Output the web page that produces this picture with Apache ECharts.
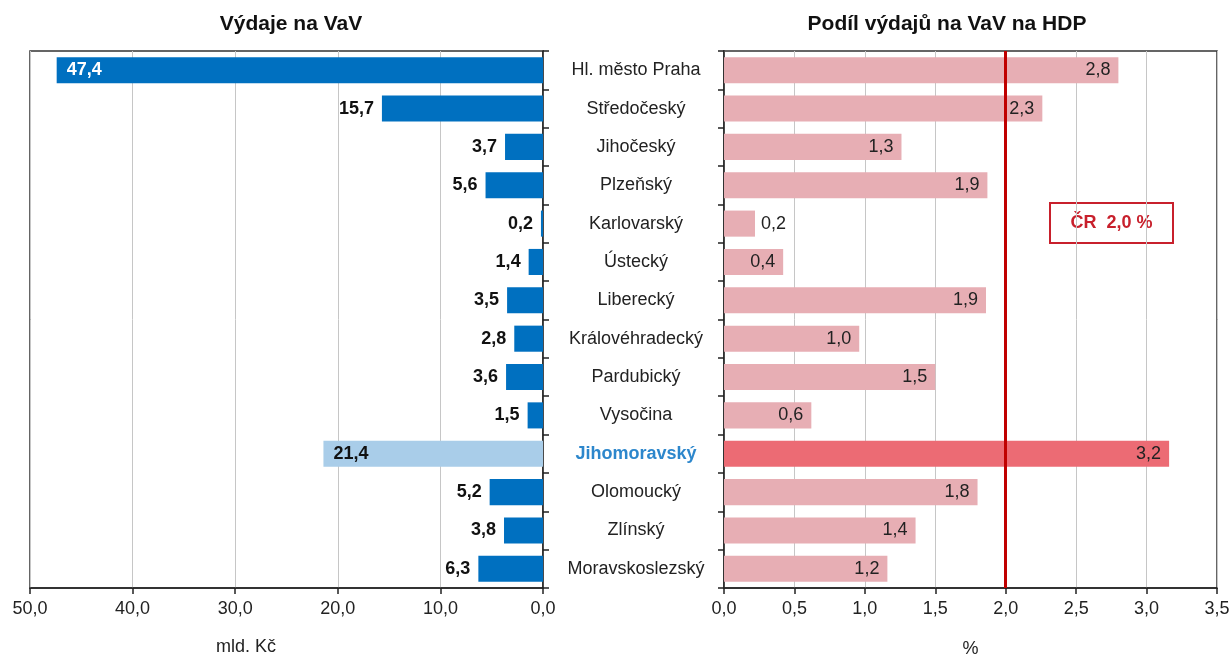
<!DOCTYPE html>
<html>
<head>
<meta charset="utf-8">
<script src="https://cdn.jsdelivr.net/npm/echarts@6/dist/echarts.min.js"></script>
<style>
html,body{margin:0;padding:0;background:#fff;}
#chart{width:1232px;height:658px;}
</style>
</head>
<body>
<div id="chart"></div>
<script>
// ---- data ----
const regions = ["Hl. město Praha","Středočeský","Jihočeský","Plzeňský","Karlovarský","Ústecký","Liberecký","Královéhradecký","Pardubický","Vysočina","Jihomoravský","Olomoucký","Zlínský","Moravskoslezský"];
const spending = [47.4, 15.7, 3.7, 5.6, 0.2, 1.4, 3.5, 2.8, 3.6, 1.5, 21.4, 5.2, 3.8, 6.3];
const gdpShare = [2.80, 2.26, 1.26, 1.87, 0.22, 0.42, 1.86, 0.96, 1.50, 0.62, 3.16, 1.80, 1.36, 1.16];
const czAverage = 2.0;
const leftTicks = [0, 10, 20, 30, 40, 50];
const rightTicks = [0, 0.5, 1, 1.5, 2, 2.5, 3, 3.5];
const highlight = "Jihomoravský";

const fmt = v => v.toFixed(1).replace('.', ',');
const FONT = 'Liberation Sans, Arial, sans-serif';
const FS = 18;

const chart = echarts.init(document.getElementById('chart'), null, {renderer: 'canvas'});

const leftData = spending.map((v, i) => {
  const item = {value: v};
  if (regions[i] === highlight) {
    item.itemStyle = {color: '#A9CDE9'};
    item.label = {position: 'insideLeft', distance: 10, color: '#111'};
  } else if (i === 0) {
    item.label = {position: 'insideLeft', distance: 10, color: '#fff'};
  }
  return item;
});

const rightData = gdpShare.map((v, i) => {
  const item = {value: v};
  if (regions[i] === highlight) {
    item.itemStyle = {color: '#EC6B74'};
  }
  if (v < 0.3) {
    item.label = {position: 'right', distance: 6};
  }
  return item;
});

const gridTop = 51, gridBottom = 70;

const option = {
  animation: false,
  backgroundColor: '#fff',
  title: [
    {text: 'Výdaje na VaV', left: 286, top: 9, textAlign: 'center',
     textStyle: {fontFamily: FONT, fontWeight: 'bold', fontSize: 21, color: '#111'}},
    {text: 'Podíl výdajů na VaV na HDP', left: 942, top: 9, textAlign: 'center',
     textStyle: {fontFamily: FONT, fontWeight: 'bold', fontSize: 21, color: '#111'}}
  ],
  grid: [
    {left: 30, right: 1232 - 543, top: gridTop, bottom: gridBottom, show: true, borderColor: '#333', borderWidth: 1.5, containLabel: false, outerBoundsMode: 'none'},
    {left: 724, right: 1232 - 1217, top: gridTop, bottom: gridBottom, show: true, borderColor: '#333', borderWidth: 1.5, containLabel: false, outerBoundsMode: 'none'}
  ],
  xAxis: [
    {gridIndex: 0, type: 'value', inverse: true, min: leftTicks[0], max: leftTicks[leftTicks.length - 1], interval: 10,
     axisLine: {show: true, lineStyle: {color: '#222', width: 1.5}},
     axisTick: {show: true, length: 6, lineStyle: {color: '#222', width: 1.5}},
     splitLine: {show: true, lineStyle: {color: '#c6c6c6', width: 1}},
     axisLabel: {formatter: fmt, fontFamily: FONT, fontSize: FS, color: '#222', margin: 12}},
    {gridIndex: 1, type: 'value', min: rightTicks[0], max: rightTicks[rightTicks.length - 1], interval: 0.5,
     name: '%', nameLocation: 'middle', nameGap: 52,
     nameTextStyle: {fontFamily: FONT, fontSize: FS, color: '#222'},
     axisLine: {show: true, lineStyle: {color: '#222', width: 1.5}},
     axisTick: {show: true, length: 6, lineStyle: {color: '#222', width: 1.5}},
     splitLine: {show: true, lineStyle: {color: '#c6c6c6', width: 1}},
     axisLabel: {formatter: fmt, fontFamily: FONT, fontSize: FS, color: '#222', margin: 12}}
  ],
  yAxis: [
    {gridIndex: 0, type: 'category', data: regions, inverse: true, position: 'right',
     axisLine: {show: true, lineStyle: {color: '#222', width: 1.5}},
     axisTick: {show: true, length: 6, lineStyle: {color: '#222', width: 1.5}},
     axisLabel: {show: false}},
    {gridIndex: 1, type: 'category', data: regions, inverse: true, position: 'left',
     axisLine: {show: true, lineStyle: {color: '#222', width: 1.5}},
     axisTick: {show: true, length: 6, lineStyle: {color: '#222', width: 1.5}},
     axisLabel: {
       align: 'center', margin: 88, fontFamily: FONT, fontSize: FS, color: '#222',
       formatter: v => v === highlight ? '{hl|' + v + '}' : v,
       rich: {hl: {fontFamily: FONT, fontSize: FS, fontWeight: 'bold', color: '#2D87CC'}}
     }}
  ],
  series: [
    {type: 'bar', xAxisIndex: 0, yAxisIndex: 0, data: leftData, barCategoryGap: '32%',
     itemStyle: {color: '#0070C0'},
     label: {show: true, position: 'left', distance: 8, formatter: p => fmt(p.value),
             fontFamily: FONT, fontSize: FS, fontWeight: 'bold', color: '#111'}},
    {type: 'bar', xAxisIndex: 1, yAxisIndex: 1, data: rightData, barCategoryGap: '32%',
     itemStyle: {color: '#E7AEB4'},
     label: {show: true, position: 'insideRight', distance: 8, formatter: p => fmt(p.value),
             fontFamily: FONT, fontSize: FS, color: '#222'},
     markLine: {silent: true, symbol: 'none', label: {show: false},
                lineStyle: {color: '#C00000', width: 3, type: 'solid'},
                data: [{xAxis: czAverage}]}}
  ],
  graphic: [
    {type: 'text', left: 216, top: 638, style: {text: 'mld. Kč', font: FS + 'px ' + FONT, fill: '#222'}},
    {type: 'group', left: 1049, top: 202, children: [
      {type: 'rect', shape: {x: 0, y: 0, width: 123, height: 40}, style: {fill: '#fff', stroke: '#C8202C', lineWidth: 2}},
      {type: 'text', x: 61.5, y: 20, style: {text: 'ČR  ' + fmt(czAverage) + ' %', font: 'bold ' + FS + 'px ' + FONT, fill: '#C8202C', align: 'center', verticalAlign: 'middle'}}
    ]}
  ]
};
chart.setOption(option);
</script>
</body>
</html>
